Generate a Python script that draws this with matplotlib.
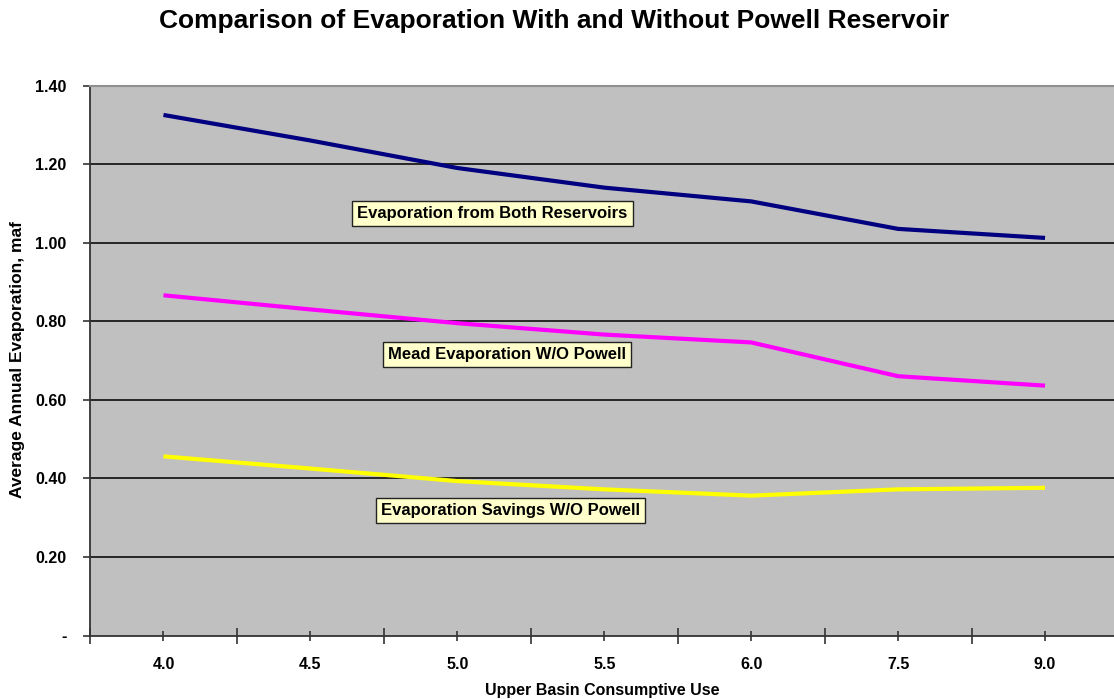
import numpy as np
import matplotlib
matplotlib.use("Agg")
import matplotlib.pyplot as plt
from matplotlib.ticker import FixedLocator, FixedFormatter

plt.rcParams['font.family'] = ['Liberation Sans', 'DejaVu Sans']

# upper basin consumptive use (categories on the x axis)
use_labels = ["4.0", "4.5", "5.0", "5.5", "6.0", "7.5", "9.0"]
# average annual evaporation, maf
both_reservoirs = [1.325, 1.260, 1.190, 1.140, 1.105, 1.035, 1.012]
mead_wo_powell = [0.866, 0.830, 0.795, 0.766, 0.746, 0.660, 0.636]
savings_wo_powell = [0.456, 0.425, 0.393, 0.372, 0.356, 0.372, 0.376]

y_ticks = [0, 0.2, 0.4, 0.6, 0.8, 1.0, 1.2, 1.4]
y_labels = ["-", "0.20", "0.40", "0.60", "0.80", "1.00", "1.20", "1.40"]

fig = plt.figure(figsize=(11.14, 6.99), dpi=100)
ax = fig.add_axes([90 / 1114, 63.5 / 699, 1028.5 / 1114, 550 / 699])
ax.set_facecolor("#c0c0c0")

x = np.arange(len(use_labels))
ax.plot(x, both_reservoirs, color="#000080", lw=3, solid_capstyle="butt", zorder=3)
ax.plot(x, mead_wo_powell, color="#ff00ff", lw=3, solid_capstyle="butt", zorder=3)
ax.plot(x, savings_wo_powell, color="#ffff00", lw=3, solid_capstyle="butt", zorder=3)

ax.set_xlim(-0.5, len(use_labels) - 0.5)
ax.set_ylim(0, 1.4)

# gridlines
for v in y_ticks[1:-1]:
    ax.axhline(v, color="#1a1a1a", lw=1.3, zorder=1)

ax.yaxis.set_major_locator(FixedLocator(y_ticks))
ax.yaxis.set_major_formatter(FixedFormatter(y_labels))
ax.xaxis.set_major_locator(FixedLocator(x))
ax.xaxis.set_major_formatter(FixedFormatter(use_labels))
ax.xaxis.set_minor_locator(FixedLocator(np.arange(-0.5, len(use_labels), 1.0)))

ax.tick_params(axis="y", direction="out", length=5, width=1.2, color="#333333", pad=12)
ax.tick_params(axis="x", which="major", direction="inout", length=7, width=1.2, color="#333333", pad=12)
ax.tick_params(axis="x", which="minor", direction="inout", length=11, width=1.2, color="#333333")
for lbl in ax.get_xticklabels() + ax.get_yticklabels():
    lbl.set_fontweight("bold")
    lbl.set_fontsize(11.5)

ax.spines["top"].set_color("#909090")
ax.spines["top"].set_linewidth(1.5)
ax.spines["right"].set_visible(False)
ax.spines["left"].set_color("#333333")
ax.spines["left"].set_linewidth(1.3)
ax.spines["bottom"].set_color("#333333")
ax.spines["bottom"].set_linewidth(1.3)

box = dict(boxstyle="square,pad=0.3", facecolor="#ffffcc", edgecolor="#222222", lw=1)
ax.text(2.24, 1.075, "Evaporation from Both Reservoirs", ha="center", va="center",
        fontsize=12, fontweight="bold", bbox=box, zorder=5)
ax.text(2.337, 0.715, "Mead Evaporation W/O Powell", ha="center", va="center",
        fontsize=12, fontweight="bold", bbox=box, zorder=5)
ax.text(2.364, 0.317, "Evaporation Savings W/O Powell", ha="center", va="center",
        fontsize=12, fontweight="bold", bbox=box, zorder=5)

fig.text(554 / 1114, 1 - 21 / 699, "Comparison of Evaporation With and Without Powell Reservoir",
         ha="center", va="center", fontsize=19, fontweight="bold")
fig.text(602 / 1114, 1 - 690 / 699, "Upper Basin Consumptive Use", ha="center", va="center",
         fontsize=11.5, fontweight="bold")
fig.text(18 / 1114, 1 - 360 / 699, "Average Annual Evaporation, maf", ha="center", va="center",
         rotation=90, fontsize=12.5, fontweight="bold")

fig.savefig("out.png", dpi=100)
